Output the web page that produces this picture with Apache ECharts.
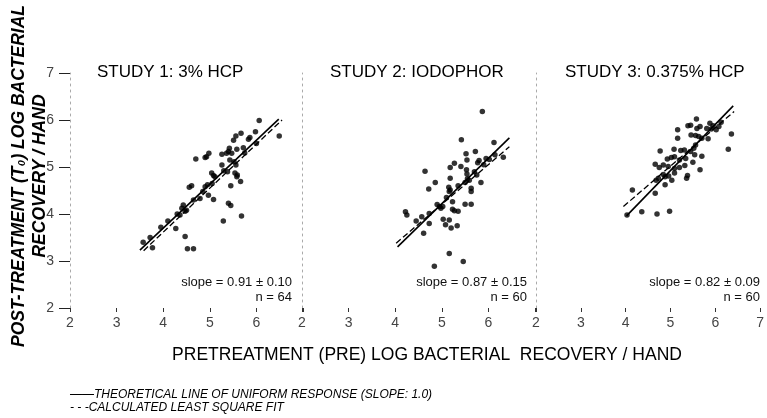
<!DOCTYPE html>
<html>
<head>
<meta charset="utf-8">
<script src="https://cdn.jsdelivr.net/npm/echarts@6/dist/echarts.min.js"></script>
<style>
html,body{margin:0;padding:0;background:#fff;}
#chart{width:767px;height:418px;}
</style>
</head>
<body>
<div id="chart"></div>
<script>
// ---- Data ----
const studyTitles = ['STUDY 1: 3% HCP', 'STUDY 2: IODOPHOR', 'STUDY 3: 0.375% HCP'];
const slopeLabels = ['slope = 0.91 ± 0.10', 'slope = 0.87 ± 0.15', 'slope = 0.82 ± 0.09'];
const nLabels = ['n = 64', 'n = 60', 'n = 60'];
const xTickValues = [2, 3, 4, 5, 6, 7];
const yTickValues = [2, 3, 4, 5, 6, 7];
const xAxisTitle = 'PRETREATMENT (PRE) LOG BACTERIAL  RECOVERY / HAND';
const yAxisTitle1 = 'POST-TREATMENT (T\u2080) LOG BACTERIAL';
const yAxisTitle2 = 'RECOVERY / HAND';
const legendSolid = '\u2014\u2014THEORETICAL LINE OF UNIFORM RESPONSE (SLOPE: 1.0)';
const legendDashed = '- - -CALCULATED LEAST SQUARE FIT';

const study1Pre = [6.06,6.49,5.98,5.67,5.56,5.51,5.86,5.83,5.72,5.58,5.42,5.40,5.47,5.36,5.26,4.98,4.93,4.90,4.70,5.26,5.43,5.52,5.56,5.38,5.54,5.58,5.59,5.66,5.45,5.04,5.08,5.11,4.95,4.90,4.61,4.56,4.97,5.08,4.79,5.40,5.45,5.68,5.29,4.43,4.40,4.47,4.50,4.36,4.27,4.47,4.52,4.65,3.57,3.77,3.72,3.95,4.10,4.30,4.65,4.85,5.05,5.30,5.75,6.00];
const study1Post = [5.99,5.66,5.75,5.72,5.66,5.57,5.63,5.59,5.41,5.38,5.40,5.33,5.29,5.29,5.27,5.29,5.22,5.20,5.17,5.04,5.15,5.11,5.04,4.90,4.87,4.79,4.83,4.69,4.60,4.87,4.82,4.79,4.62,4.58,4.60,4.57,4.40,4.31,4.33,4.23,4.18,3.96,3.85,4.19,4.12,4.06,4.08,3.98,3.69,3.52,3.26,3.26,3.40,3.28,3.50,3.72,3.85,4.00,4.30,4.48,4.65,4.92,5.30,5.50];

const study2Pre = [5.87,5.42,6.12,6.32,5.72,5.52,5.54,5.27,5.18,5.41,5.77,5.80,5.95,6.02,6.14,4.64,5.53,5.54,5.18,4.86,4.72,5.15,5.18,5.16,5.63,5.63,5.75,5.84,5.50,5.59,5.23,5.50,5.63,4.22,4.25,4.57,4.73,4.98,5.02,5.23,5.27,5.35,4.73,5.03,5.16,5.08,5.20,5.33,4.61,5.16,5.46,4.84,4.95,4.45,4.90,5.10,5.35,5.55,5.70,5.90];
const study2Post = [6.18,5.58,5.52,5.21,5.33,5.28,5.15,5.08,4.99,5.01,5.09,5.14,5.18,5.16,5.26,4.91,4.94,4.85,4.76,4.67,4.53,4.57,4.51,4.48,4.55,4.48,4.83,4.67,4.67,4.72,4.26,4.21,4.21,4.05,3.98,3.94,4.01,4.12,4.16,4.10,4.07,4.06,3.80,3.89,3.87,3.77,3.70,3.75,3.59,3.16,2.99,2.89,4.16,3.85,4.20,4.35,4.60,4.75,4.90,5.05];

const study3Pre = [5.58,5.39,5.45,5.16,5.59,5.66,5.88,5.95,6.13,6.08,5.81,5.91,6.02,5.46,5.56,5.63,5.70,5.84,5.16,6.36,6.29,5.56,5.52,5.45,5.31,5.23,5.08,4.77,5.54,5.70,5.09,5.02,4.93,5.20,5.34,4.66,4.75,4.84,4.95,5.09,5.20,5.32,5.50,5.66,4.84,4.96,5.09,5.38,5.36,4.68,4.88,5.03,4.15,4.66,4.73,4.03,4.36,4.70,4.98,4.88];
const study3Post = [6.02,5.88,5.89,5.79,5.82,5.86,5.93,5.88,5.95,5.86,5.82,5.81,5.79,5.68,5.67,5.65,5.61,5.60,5.61,5.70,5.38,5.47,5.40,5.33,5.36,5.35,5.38,5.34,5.26,5.23,5.22,5.20,5.17,5.15,5.18,5.06,4.99,5.04,5.01,4.97,4.99,5.03,5.10,4.94,4.84,4.81,4.87,4.82,4.76,4.72,4.62,4.72,4.51,4.44,4.76,3.98,4.05,4.00,4.06,4.79];

// theoretical (solid) and least-squares (dashed) line end points [pre, post]
const theoryLine1 = [[3.50, 3.23], [6.48, 6.02]];
const fitLine1 = [[3.58, 3.22], [6.55, 6.00]];
const theoryLine2 = [[4.05, 3.30], [6.45, 5.62]];
const fitLine2 = [[4.02, 3.38], [6.45, 5.43]];
const theoryLine3 = [[4.02, 3.96], [6.40, 6.30]];
const fitLine3 = [[3.95, 4.16], [6.42, 6.18]];

// ---- Build chart ----
const pres = [study1Pre, study2Pre, study3Pre];
const posts = [study1Post, study2Post, study3Post];
const theories = [theoryLine1, theoryLine2, theoryLine3];
const fits = [fitLine1, fitLine2, fitLine3];

const FONT = '"Liberation Sans", "DejaVu Sans", Arial, sans-serif';
const panelLeft = [70, 302, 536];
const panelWidth = 233;
const gridTop = 73, gridHeight = 235;

const grids = [], xAxes = [], yAxes = [], series = [], graphics = [];
for (let i = 0; i < 3; i++) {
  grids.push({left: panelLeft[i], top: gridTop, width: panelWidth, height: gridHeight});
  xAxes.push({
    type: 'value', gridIndex: i, min: xTickValues[0], max: xTickValues[xTickValues.length - 1], interval: 1,
    axisLine: {show: false},
    axisTick: {show: true, length: 4, lineStyle: {color: '#333', width: 1}},
    splitLine: {show: false},
    axisLabel: {
      fontSize: 14, color: '#444', fontFamily: FONT, margin: 8,
      formatter: function (v) { return (v === 7 && i < 2) ? '' : String(v); }
    }
  });
  yAxes.push({
    type: 'value', gridIndex: i, min: yTickValues[0], max: yTickValues[yTickValues.length - 1], interval: 1,
    axisLine: {show: true, lineStyle: {color: '#aaa', width: 1, type: [2, 4]}},
    axisTick: {show: i === 0, length: 11, lineStyle: {color: '#222', width: 1}},
    splitLine: {show: false},
    axisLabel: {show: i === 0, fontSize: 14, color: '#444', fontFamily: FONT, margin: 16}
  });
  series.push({
    type: 'line', xAxisIndex: i, yAxisIndex: i, data: theories[i], symbol: 'none',
    lineStyle: {color: '#000', width: 1.6}, silent: true, z: 2
  });
  series.push({
    type: 'line', xAxisIndex: i, yAxisIndex: i, data: fits[i], symbol: 'none',
    lineStyle: {color: '#000', width: 1.3, type: [6, 3]}, silent: true, z: 2
  });
  series.push({
    type: 'scatter', xAxisIndex: i, yAxisIndex: i,
    data: pres[i].map((x, k) => [x, posts[i][k]]),
    symbol: 'circle', symbolSize: 5.5, itemStyle: {color: '#000'}, z: 3
  });
}

const titleX = [97, 330, 565];
const slopeRight = [292, 527, 760];
for (let i = 0; i < 3; i++) {
  graphics.push({type: 'text', x: titleX[i], y: 72, style: {
    text: studyTitles[i], fill: '#000', font: '17px ' + FONT, textAlign: 'left', textVerticalAlign: 'middle'}});
  graphics.push({type: 'text', x: slopeRight[i], y: 282, style: {
    text: slopeLabels[i], fill: '#111', font: '13px ' + FONT, textAlign: 'right', textVerticalAlign: 'middle'}});
  graphics.push({type: 'text', x: slopeRight[i], y: 297, style: {
    text: nLabels[i], fill: '#111', font: '13px ' + FONT, textAlign: 'right', textVerticalAlign: 'middle'}});
}
graphics.push({type: 'text', x: 427, y: 355, style: {
  text: xAxisTitle, fill: '#000', font: '17.5px ' + FONT, textAlign: 'center', textVerticalAlign: 'middle'}});
graphics.push({type: 'text', x: 19, y: 176, rotation: Math.PI / 2, style: {
  text: yAxisTitle1, fill: '#000', font: 'italic bold 17.5px ' + FONT, textAlign: 'center', textVerticalAlign: 'middle'}});
graphics.push({type: 'text', x: 40, y: 176, rotation: Math.PI / 2, style: {
  text: yAxisTitle2, fill: '#000', font: 'italic bold 17.5px ' + FONT, textAlign: 'center', textVerticalAlign: 'middle'}});
graphics.push({type: 'text', x: 70, y: 395, style: {
  text: legendSolid, fill: '#000', font: 'italic 12px ' + FONT, textAlign: 'left', textVerticalAlign: 'middle'}});
graphics.push({type: 'text', x: 70, y: 408, style: {
  text: legendDashed, fill: '#000', font: 'italic 12px ' + FONT, textAlign: 'left', textVerticalAlign: 'middle'}});

const chart = echarts.init(document.getElementById('chart'), null, {renderer: 'canvas'});
chart.setOption({
  animation: false,
  backgroundColor: '#fff',
  grid: grids,
  xAxis: xAxes,
  yAxis: yAxes,
  series: series,
  graphic: graphics
});
</script>
</body>
</html>
